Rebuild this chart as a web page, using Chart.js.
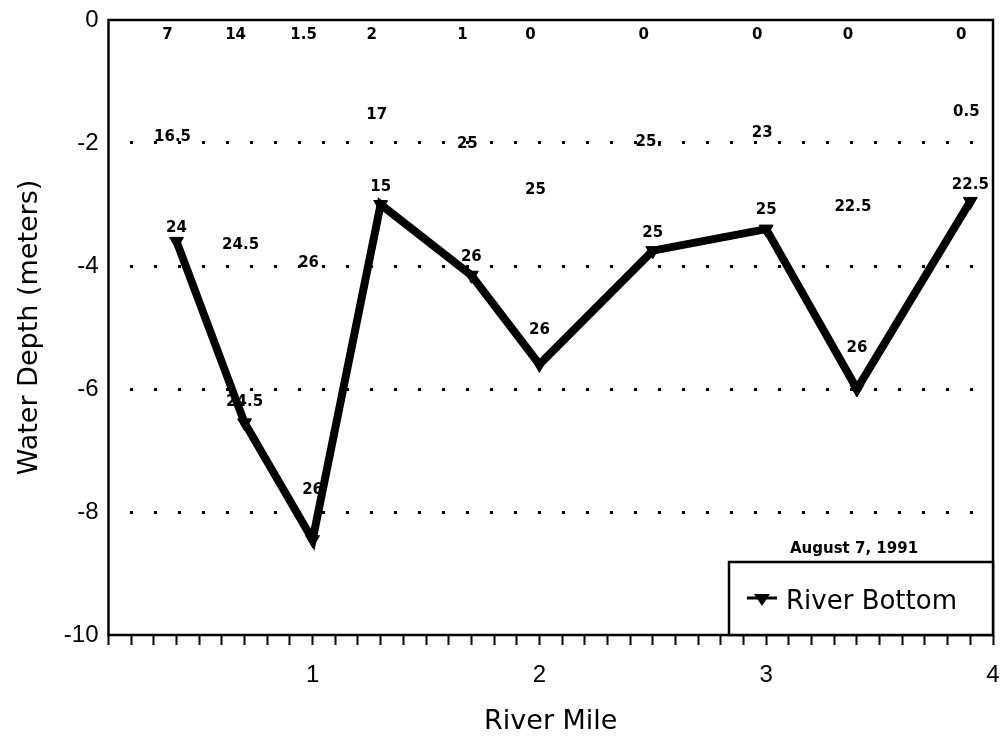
<!DOCTYPE html>
<html>
<head>
<meta charset="utf-8">
<script src="https://cdn.jsdelivr.net/npm/chart.js@4.4.1/dist/chart.umd.min.js"></script>
<style>
  html, body { margin: 0; padding: 0; background: #fff; }
  #wrap { width: 1002px; height: 739px; }
</style>
</head>
<body>
<div id="wrap"><canvas id="chart" width="1002" height="739"></canvas></div>
<script>
// stations along the river and the bottom depth at each one
const riverMile = [0.4, 0.7, 1.0, 1.3, 1.7, 2.0, 2.5, 3.0, 3.4, 3.9];
const bottomDepth = [-3.6, -6.55, -8.45, -3.0, -4.15, -5.6, -3.75, -3.4, -6.0, -2.95];

// readings written on the chart: surface, mid depth, near bottom
const surfaceRead = ["7", "14", "1.5", "2", "1", "0", "0", "0", "0", "0"];
const surfaceReadDepth = -0.24;
const midRead = ["16.5", "24.5", "26", "17", "25", "25", "25.", "23", "22.5", "0.5"];
const midReadDepth = [-1.9, -3.66, -3.95, -1.54, -2.02, -2.76, -1.98, -1.84, -3.04, -1.5];
const bottomRead = ["24", "24.5", "26", "15", "26", "26", "25", "25", "26", "22.5"];
const bottomReadDepth = [-3.38, -6.21, -7.65, -2.72, -3.85, -5.04, -3.46, -3.09, -5.33, -2.68];

const yTicks = [0, -2, -4, -6, -8, -10];
const xTicks = [1, 2, 3, 4];
const seriesName = "River Bottom";
const dateNote = "August 7, 1991";

const readFont = "bold 15px 'DejaVu Sans'";

const frame = {
  id: "frame",
  afterDraw(chart) {
    const { ctx, chartArea: a } = chart;
    ctx.save();
    ctx.strokeStyle = "#000";
    ctx.lineWidth = 2.5;
    ctx.strokeRect(a.left, a.top, a.right - a.left, a.bottom - a.top);
    ctx.restore();
  }
};

const readings = {
  id: "readings",
  afterDatasetsDraw(chart) {
    const { ctx, scales: { x, y } } = chart;
    ctx.save();
    ctx.fillStyle = "#000";
    ctx.font = readFont;
    ctx.textAlign = "center";
    ctx.textBaseline = "middle";
    riverMile.forEach((m, i) => {
      const px = x.getPixelForValue(m);
      ctx.fillText(surfaceRead[i], px - 9, y.getPixelForValue(surfaceReadDepth));
      ctx.fillText(midRead[i], px - 4, y.getPixelForValue(midReadDepth[i]));
      ctx.fillText(bottomRead[i], px, y.getPixelForValue(bottomReadDepth[i]));
    });
    ctx.restore();
  }
};

const boxLegend = {
  id: "boxLegend",
  afterDraw(chart) {
    const { ctx, chartArea: a } = chart;
    const left = a.right - 264;
    const top = a.bottom - 73;
    ctx.save();
    ctx.fillStyle = "#fff";
    ctx.fillRect(left, top, a.right - left, a.bottom - top);
    ctx.strokeStyle = "#000";
    ctx.lineWidth = 2.5;
    ctx.strokeRect(left, top, a.right - left, a.bottom - top);

    const my = top + 36;
    ctx.lineWidth = 3;
    ctx.beginPath();
    ctx.moveTo(left + 18, my);
    ctx.lineTo(left + 48, my);
    ctx.stroke();
    ctx.fillStyle = "#000";
    ctx.beginPath();
    ctx.moveTo(left + 25, my - 4);
    ctx.lineTo(left + 41, my - 4);
    ctx.lineTo(left + 33, my + 8);
    ctx.closePath();
    ctx.fill();

    ctx.font = "26px 'DejaVu Sans'";
    ctx.textAlign = "left";
    ctx.textBaseline = "middle";
    ctx.fillText(chart.data.datasets[0].label, left + 57, my + 4);

    ctx.font = "bold 15px 'DejaVu Sans'";
    ctx.textAlign = "center";
    ctx.fillText(dateNote, a.right - 139, top - 13);
    ctx.restore();
  }
};

new Chart(document.getElementById("chart"), {
  type: "line",
  data: {
    datasets: [{
      label: seriesName,
      data: riverMile.map((m, i) => ({ x: m, y: bottomDepth[i] })),
      borderColor: "#000",
      backgroundColor: "#000",
      borderWidth: 8,
      borderJoinStyle: "miter",
      tension: 0,
      pointStyle: "triangle",
      rotation: 180,
      pointRadius: 8,
      pointBackgroundColor: "#000",
      pointBorderColor: "#000",
      pointBorderWidth: 1
    }]
  },
  options: {
    responsive: false,
    animation: false,
    devicePixelRatio: 1,
    layout: { padding: { top: 20, right: 8, left: 0, bottom: 0 } },
    plugins: { legend: { display: false }, tooltip: { enabled: false } },
    scales: {
      x: {
        type: "linear",
        min: 0.1,
        max: 4,
        afterFit: (s) => { s.height = 104; s.paddingLeft = 0; s.paddingRight = 0; },
        ticks: {
          stepSize: 0.1,
          maxTicksLimit: 100,
          autoSkip: false,
          maxRotation: 0,
          padding: 16,
          color: "#000",
          font: { family: "'Liberation Sans'", size: 24 },
          callback: (v) => {
            const r = Math.round(v);
            return Math.abs(v - r) < 1e-6 && xTicks.includes(r) ? String(r) : "";
          }
        },
        grid: { drawOnChartArea: false, drawTicks: true, tickLength: 10, tickColor: "#000", tickWidth: 2 },
        border: { display: false },
        title: {
          display: true,
          text: "River Mile",
          color: "#000",
          font: { family: "'DejaVu Sans'", size: 27 },
          padding: { top: 0, bottom: 1 }
        }
      },
      y: {
        min: -10,
        max: 0,
        afterFit: (s) => { s.width = 108.5; s.paddingTop = 0; s.paddingBottom = 0; },
        afterBuildTicks: (s) => { s.ticks = yTicks.map((v) => ({ value: v })); },
        ticks: {
          padding: 10,
          color: "#000",
          font: { family: "'Liberation Sans'", size: 24 }
        },
        grid: {
          drawTicks: false,
          lineWidth: 3,
          color: (c) => (c.tick && c.tick.value < 0 && c.tick.value > -10) ? "#000" : "rgba(0,0,0,0)"
        },
        border: { display: false, dash: [3, 21], dashOffset: 3 },
        title: {
          display: true,
          text: "Water Depth (meters)",
          color: "#000",
          font: { family: "'DejaVu Sans'", size: 27 },
          padding: { top: 14, bottom: 0 }
        }
      }
    }
  },
  plugins: [frame, readings, boxLegend]
});
</script>
</body>
</html>
